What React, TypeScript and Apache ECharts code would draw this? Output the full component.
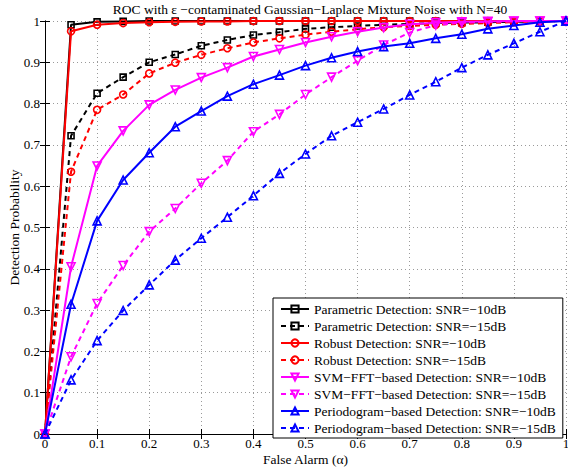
import React, { useEffect, useRef } from "react";
import * as echarts from "echarts";

const falseAlarm = [0, 0.05, 0.1, 0.15, 0.2, 0.25, 0.3, 0.35, 0.4, 0.45, 0.5, 0.55, 0.6, 0.65, 0.7, 0.75, 0.8, 0.85, 0.9, 0.95, 1];

const param10 = [0, 0.991, 0.998, 0.999, 1, 1, 1, 1, 1, 1, 1, 1, 1, 1, 1, 1, 1, 1, 1, 1, 1];
const param15 = [0, 0.722, 0.825, 0.864, 0.9, 0.919, 0.94, 0.954, 0.966, 0.973, 0.981, 0.985, 0.988, 0.991, 0.993, 0.995, 0.996, 0.997, 0.998, 0.999, 1];
const robust10 = [0, 0.975, 0.991, 0.995, 0.997, 0.998, 0.999, 0.999, 1, 1, 1, 1, 1, 1, 1, 1, 1, 1, 1, 1, 1];
const robust15 = [0, 0.635, 0.785, 0.822, 0.873, 0.899, 0.918, 0.934, 0.948, 0.958, 0.967, 0.974, 0.98, 0.985, 0.988, 0.991, 0.993, 0.995, 0.997, 0.999, 1];
const svm10 = [0, 0.405, 0.649, 0.734, 0.797, 0.833, 0.863, 0.887, 0.914, 0.931, 0.948, 0.962, 0.974, 0.984, 0.992, 0.996, 0.998, 0.999, 1, 1, 1];
const svm15 = [0, 0.187, 0.316, 0.408, 0.49, 0.546, 0.607, 0.662, 0.732, 0.774, 0.822, 0.864, 0.904, 0.942, 0.972, 0.99, 0.996, 0.998, 0.999, 1, 1];
const period10 = [0, 0.314, 0.516, 0.615, 0.681, 0.744, 0.782, 0.818, 0.847, 0.869, 0.892, 0.911, 0.926, 0.938, 0.946, 0.958, 0.968, 0.981, 0.989, 0.997, 1];
const period15 = [0, 0.131, 0.226, 0.299, 0.361, 0.421, 0.474, 0.525, 0.577, 0.631, 0.678, 0.722, 0.755, 0.787, 0.821, 0.853, 0.887, 0.918, 0.946, 0.974, 1];

const seriesNames = [
  "Parametric Detection: SNR=\u221210dB",
  "Parametric Detection: SNR=\u221215dB",
  "Robust Detection: SNR=\u221210dB",
  "Robust Detection: SNR=\u221215dB",
  "SVM\u2212FFT\u2212based Detection: SNR=\u221210dB",
  "SVM\u2212FFT\u2212based Detection: SNR=\u221215dB",
  "Periodogram\u2212based Detection: SNR=\u221210dB",
  "Periodogram\u2212based Detection: SNR=\u221215dB",
];
const seriesValues = [param10, param15, robust10, robust15, svm10, svm15, period10, period15];

const titleText = "ROC with \u03b5 \u2212contaminated Gaussian\u2212Laplace Mixture Noise with N=40";
const xName = "False Alarm (\u03b1)";
const yName = "Detection Probability";

const FONT = "'Liberation Serif', 'Times New Roman', serif";

export default function App() {
  const ref = useRef<HTMLDivElement>(null);
  useEffect(() => {
    if (!ref.current) return;
    const chart = echarts.init(ref.current, undefined, { renderer: "svg" });
    const styles = [
      { color: "#000000", symbol: "rect", size: 6, rot: 0, dash: false },
      { color: "#000000", symbol: "rect", size: 6, rot: 0, dash: true },
      { color: "#ff0000", symbol: "circle", size: 7, rot: 0, dash: false },
      { color: "#ff0000", symbol: "circle", size: 7, rot: 0, dash: true },
      { color: "#ff00ff", symbol: "triangle", size: 8, rot: 180, dash: false },
      { color: "#ff00ff", symbol: "triangle", size: 8, rot: 180, dash: true },
      { color: "#0000ff", symbol: "triangle", size: 8, rot: 0, dash: false },
      { color: "#0000ff", symbol: "triangle", size: 8, rot: 0, dash: true },
    ];
    const series = seriesNames.map((name, i) => {
      const s = styles[i];
      return {
        name,
        type: "line",
        data: falseAlarm.map((x, j) => [x, seriesValues[i][j]]),
        symbol: s.symbol,
        symbolSize: s.size,
        symbolRotate: s.rot,
        showSymbol: true,
        lineStyle: { color: s.color, width: 2, type: s.dash ? [5, 4] : "solid" },
        itemStyle: { color: "rgba(255,255,255,0)", borderColor: s.color, borderWidth: 1.6 },
        emphasis: { disabled: true },
        z: 2 + i,
      };
    });
    const axisCommon = {
      type: "value",
      min: 0,
      max: 1,
      interval: 0.1,
      axisLine: { show: true, lineStyle: { color: "#000", width: 1 } },
      axisTick: { show: true, inside: true, length: 5, lineStyle: { color: "#000" } },
    };
    chart.setOption({
      animation: false,
      backgroundColor: "#ffffff",
      title: {
        text: titleText,
        left: 305,
        top: -3,
        textAlign: "center",
        textStyle: { fontFamily: FONT, fontSize: 13.5, fontWeight: "normal", color: "#000" },
      },
      grid: { left: 45, right: 2, top: 21, bottom: 34, containLabel: false, outerBoundsMode: "none" },
      legend: {
        orient: "vertical",
        left: 273,
        top: 298,
        backgroundColor: "#ffffff",
        borderColor: "#000",
        borderWidth: 1,
        borderRadius: 0,
        padding: [4, 7, 3, 7],
        itemGap: 3,
        itemWidth: 28,
        itemHeight: 9,
        textStyle: { fontFamily: FONT, fontSize: 13.5, color: "#000", lineHeight: 13 },
        data: seriesNames,
      },
      xAxis: [
        {
          ...axisCommon,
          position: "bottom",
          name: xName,
          nameLocation: "middle",
          nameGap: 18,
          nameMoveOverlap: false,
          nameTextStyle: { fontFamily: FONT, fontSize: 13.5, color: "#000" },
          axisLabel: { fontFamily: FONT, fontSize: 13, color: "#000", margin: 3 },
          splitLine: { show: true, lineStyle: { color: "#9a9a9a", width: 1, type: [1, 3] } },
        },
        {
          ...axisCommon,
          position: "top",
          axisLabel: { show: false },
          splitLine: { show: false },
        },
      ],
      yAxis: [
        {
          ...axisCommon,
          position: "left",
          name: yName,
          nameLocation: "middle",
          nameGap: 24,
          nameMoveOverlap: false,
          nameTextStyle: { fontFamily: FONT, fontSize: 13.5, color: "#000" },
          axisLabel: { fontFamily: FONT, fontSize: 13, color: "#000", margin: 5 },
          splitLine: { show: true, lineStyle: { color: "#9a9a9a", width: 1, type: [1, 3] } },
        },
        {
          ...axisCommon,
          position: "right",
          axisLabel: { show: false },
          splitLine: { show: false },
        },
      ],
      series,
    });
    return () => chart.dispose();
  }, []);
  return (
    <div
      ref={ref}
      style={{ position: "fixed", left: 0, top: 0, width: 568, height: 468, background: "#fff" }}
    />
  );
}
